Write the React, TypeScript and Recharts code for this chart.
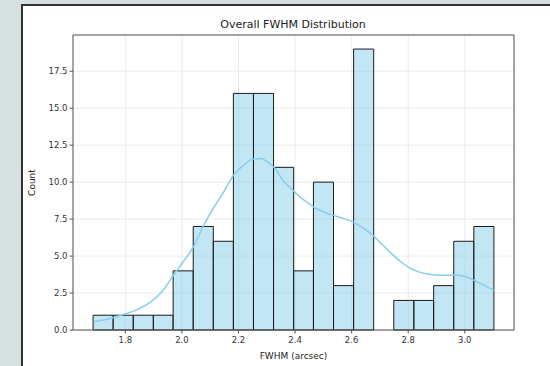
import React from "react";
import {
  ComposedChart,
  Line,
  XAxis,
  YAxis,
  CartesianGrid,
  ReferenceArea,
  Label,
} from "recharts";

// Histogram bin edges (arcsec) and counts
const binEdges = [
  1.686, 1.757, 1.828, 1.899, 1.969, 2.04, 2.111, 2.182, 2.253, 2.324, 2.395,
  2.465, 2.536, 2.607, 2.678, 2.749, 2.82, 2.89, 2.961, 3.032, 3.103,
];
const binCounts = [1, 1, 1, 1, 4, 7, 6, 16, 16, 11, 4, 10, 3, 19, 0, 2, 2, 3, 6, 7];

// KDE curve
const kdeX = [
  1.688, 1.75, 1.795, 1.85, 1.89, 1.93, 1.97, 2.0, 2.04, 2.075, 2.11, 2.15, 2.18,
  2.215, 2.25, 2.28, 2.3, 2.33, 2.358, 2.39, 2.417, 2.45, 2.476, 2.505, 2.535,
  2.57, 2.605, 2.64, 2.675, 2.71, 2.745, 2.775, 2.805, 2.835, 2.864, 2.893,
  2.922, 2.95, 2.98, 3.01, 3.04, 3.07, 3.103,
];
const kdeY = [
  0.56, 0.8, 1.06, 1.45, 1.9, 2.6, 3.7, 4.5, 5.6, 7.0, 8.2, 9.4, 10.4, 11.1,
  11.55, 11.6, 11.4, 10.9, 10.1, 9.5, 9.0, 8.55, 8.2, 7.95, 7.75, 7.55, 7.3,
  6.9, 6.4, 5.75, 5.1, 4.6, 4.2, 3.95, 3.8, 3.72, 3.7, 3.7, 3.7, 3.55, 3.3,
  3.0, 2.7,
];

const xTicks = [1.8, 2.0, 2.2, 2.4, 2.6, 2.8, 3.0];
const yTicks = [0, 2.5, 5, 7.5, 10, 12.5, 15, 17.5];
const xDomain = [1.615, 3.174];
const yDomain = [0, 19.95];

const title = "Overall FWHM Distribution";
const xLabel = "FWHM (arcsec)";
const yLabel = "Count";

const kdeData = kdeX.map((x, i) => ({ x, y: kdeY[i] }));

const FONT = "'DejaVu Sans', sans-serif";

export default function App() {
  return (
    <div
      style={{
        position: "absolute",
        left: 0,
        top: 0,
        width: 550,
        height: 366,
        background: "#d6e0e0",
        overflow: "hidden",
        fontFamily: FONT,
      }}
    >
      <div
        style={{
          position: "absolute",
          left: 21,
          top: 4,
          width: 540,
          height: 370,
          background: "#ffffff",
          borderLeft: "2px solid #333",
          borderTop: "2px solid #333",
        }}
      />
      <div
        style={{
          position: "absolute",
          left: 0,
          width: 550,
          top: 18,
          textAlign: "center",
          paddingLeft: 36,
          boxSizing: "border-box",
          fontSize: 11,
          color: "#222",
          lineHeight: "13px",
        }}
      >
        {title}
      </div>
      <div style={{ position: "absolute", left: 0, top: 0 }}>
        <ComposedChart
          width={550}
          height={366}
          data={kdeData}
          margin={{ top: 35, right: 36, bottom: 6, left: 22 }}
        >
          <CartesianGrid stroke="#e6e6e6" strokeWidth={0.8} />
          <XAxis
            dataKey="x"
            type="number"
            domain={xDomain}
            ticks={xTicks}
            allowDataOverflow
            tickFormatter={(v: number) => v.toFixed(1)}
            tick={{ fontSize: 8.5, fill: "#333", fontFamily: FONT }}
            tickLine={{ stroke: "#555" }}
            tickSize={3.5}
            tickMargin={3}
            axisLine={false}
            height={30}
            interval={0}
          >
            <Label
              value={xLabel}
              position="insideBottom"
              offset={1}
              style={{ fontSize: 9, fill: "#222", fontFamily: FONT }}
            />
          </XAxis>
          <YAxis
            type="number"
            domain={yDomain}
            ticks={yTicks}
            allowDataOverflow
            tickFormatter={(v: number) => v.toFixed(1)}
            tick={{ fontSize: 8.5, fill: "#333", fontFamily: FONT }}
            tickLine={{ stroke: "#555" }}
            tickSize={3.5}
            axisLine={false}
            width={51}
            interval={0}
          >
            <Label
              value={yLabel}
              angle={-90}
              position="insideLeft"
              offset={10}
              style={{ fontSize: 9, fill: "#222", fontFamily: FONT, textAnchor: "middle" }}
            />
          </YAxis>
          {binCounts.map((c, i) =>
            c > 0 ? (
              <ReferenceArea
                key={i}
                x1={binEdges[i]}
                x2={binEdges[i + 1]}
                y1={0}
                y2={c}
                fill="#87ceeb"
                fillOpacity={0.5}
                stroke="#1a1a1a"
                strokeOpacity={1}
                strokeWidth={1}
                ifOverflow="visible"
              />
            ) : null
          )}
          <ReferenceArea
            x1={xDomain[0]}
            x2={xDomain[1]}
            y1={yDomain[0]}
            y2={yDomain[1]}
            fill="none"
            stroke="#555"
            strokeWidth={1}
            ifOverflow="visible"
          />
          <Line
            type="monotone"
            dataKey="y"
            stroke="#87ceeb"
            strokeWidth={1.5}
            dot={false}
            isAnimationActive={false}
          />
        </ComposedChart>
      </div>
    </div>
  );
}
